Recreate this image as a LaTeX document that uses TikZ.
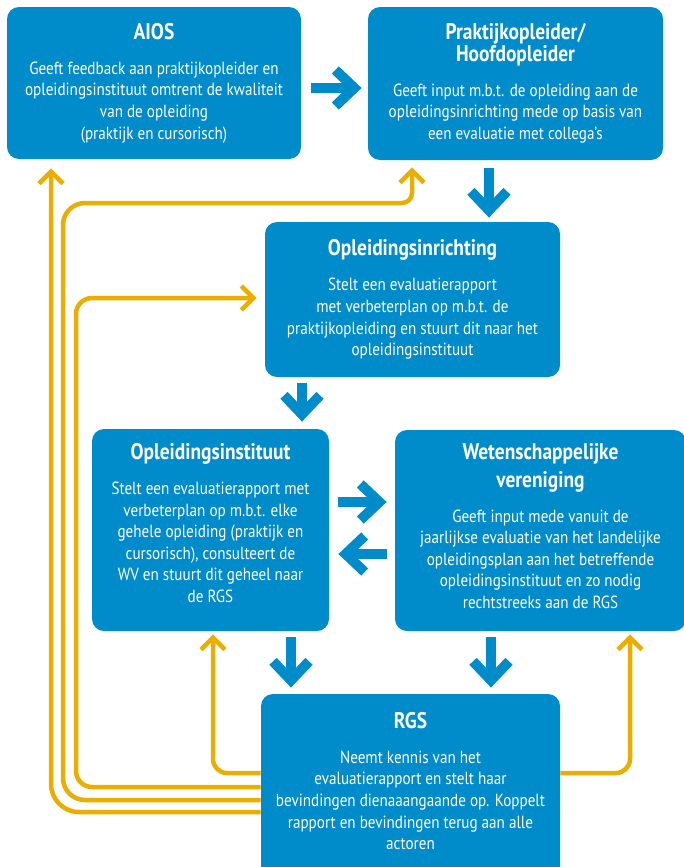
\documentclass[tikz,border=0pt]{standalone}
\usepackage{fontspec}
\setmainfont{PT Sans}[FakeStretch=0.86]
\usepackage{xcolor}
\usetikzlibrary{arrows.meta, positioning, calc}
\definecolor{rgsblue}{HTML}{008BCB}
\definecolor{rgsyellow}{HTML}{EAAE00}
\newcommand{\boxtitle}[1]{{\fontsize{11.3}{11}\selectfont\bfseries #1}}

\begin{document}
\begin{tikzpicture}[x=0.5pt, y=-0.5pt,
  actor/.style={rectangle, rounded corners=6pt, fill=rgsblue, text=white, inner sep=0pt,
    align=center, font=\fontsize{8.8}{10.8}\selectfont},
  flow/.style={-{Straight Barb[length=9.5pt, width=18pt, line width=5pt]}, line width=5pt, rgsblue},
  feedback/.style={-{Straight Barb[length=6pt, width=12pt, line width=2.25pt]}, line width=2.25pt, rgsyellow}
]
  \useasboundingbox (0,0) rectangle (684,867);
  \clip (0,0) rectangle (684,867);

  % actoren
  \node[actor, minimum width=147pt, minimum height=76pt] (aios) at (154,83)
    {\boxtitle{AIOS}\\[6.7pt]
     Geeft feedback aan praktijkopleider en\\
     opleidingsinstituut omtrent de kwaliteit\\
     van de opleiding\\
     (praktijk en cursorisch)};
  \node[actor, minimum width=147.5pt, minimum height=76.5pt, text depth=2pt] (prak) at (515.5,83.5)
    {\boxtitle{Praktijkopleider/}\\\boxtitle{Hoofdopleider}\\[6.7pt]
     Geeft input m.b.t. de opleiding aan de\\
     opleidingsinrichting mede op basis van\\
     een evaluatie met collega’s};
  \node[actor, minimum width=147.5pt, minimum height=77.5pt] (oinr) at (412.5,299.5)
    {\boxtitle{Opleidingsinrichting}\\[6.7pt]
     Stelt een evaluatierapport\\
     met verbeterplan op m.b.t. de\\
     praktijkopleiding en stuurt dit naar het\\
     opleidingsinstituut};
  \node[actor, minimum width=118.5pt, minimum height=101pt, text depth=7pt] (oi) at (210.5,530)
    {\boxtitle{Opleidingsinstituut}\\[6.7pt]
     Stelt een evaluatierapport met\\
     verbeterplan op m.b.t. elke\\
     gehele opleiding (praktijk en\\
     cursorisch), consulteert de\\
     WV en stuurt dit geheel naar\\
     de RGS};
  \node[actor, minimum width=145.5pt, minimum height=100.5pt, text depth=4.5pt] (wv) at (540.5,530.5)
    {\boxtitle{Wetenschappelijke}\\[3pt]\boxtitle{vereniging}\\[6.7pt]
     Geeft input mede vanuit de\\
     jaarlijkse evaluatie van het landelijke\\
     opleidingsplan aan het betreffende\\
     opleidingsinstituut en zo nodig\\
     rechtstreeks aan de RGS};
  \node[actor, minimum width=149.5pt, minimum height=98pt, text depth=11pt] (rgs) at (410.5,792)
    {\boxtitle{RGS}\\[6.7pt]
     Neemt kennis van het\\
     evaluatierapport en stelt haar\\
     bevindingen dienaaangaande op. Koppelt\\
     rapport en bevindingen terug aan alle\\
     actoren};

  % blauwe pijlen
  \draw[flow, shorten <=5pt, shorten >=3pt] (aios.east |- 0,88) -- (prak.west |- 0,88);
  \draw[flow, shorten <=4pt, shorten >=2pt] (prak.south -| 489,0) -- (oinr.north -| 489,0);
  \draw[flow, shorten <=3pt, shorten >=3.5pt] (oinr.south -| 302,0) -- (oi.north -| 302,0);
  \draw[flow, shorten <=4.5pt, shorten >=4pt] (oi.east |- 0,502) -- (wv.west |- 0,502);
  \draw[flow, shorten <=4pt, shorten >=4.5pt] (wv.west |- 0,554) -- (oi.east |- 0,554);
  \draw[flow, shorten <=3pt, shorten >=3pt] (oi.south -| 291,0) -- (rgs.north -| 291,0);
  \draw[flow, shorten <=3pt, shorten >=3pt] (wv.south -| 491,0) -- (rgs.north -| 491,0);

  % terugkoppeling RGS
  \draw[feedback, rounded corners=14pt, shorten >=4.5pt] (rgs.west |- 0,812) -| (aios.south -| 51,0);
  \draw[feedback, rounded corners=11pt, shorten >=3.5pt] (rgs.west |- 0,800) -| (63,203)
    [rounded corners=5pt] -| (prak.south -| 412,0);
  \draw[feedback, rounded corners=8pt, shorten >=4pt] (rgs.west |- 0,787) -| (76,298) -- (oinr.west |- 0,298);
  \draw[feedback, rounded corners=7pt, shorten >=1.5pt] (rgs.west |- 0,773) -| (oi.south -| 213,0);
  \draw[feedback, rounded corners=7pt, shorten >=1.5pt] (rgs.east |- 0,773) -| (wv.south -| 630,0);
\end{tikzpicture}
\end{document}
